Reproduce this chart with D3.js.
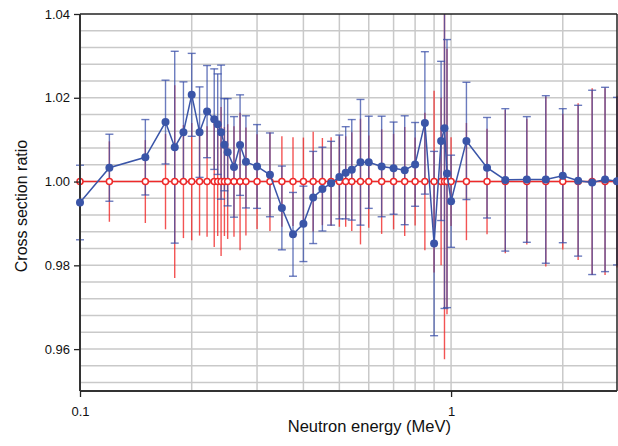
<!DOCTYPE html>
<html><head><meta charset="utf-8">
<script src="https://cdn.jsdelivr.net/npm/d3@7/dist/d3.min.js"></script>
<style>
html,body{margin:0;padding:0;background:#fff;}
svg{display:block;font-family:"Liberation Sans",Arial,Helvetica,sans-serif;}
</style></head>
<body>
<svg id="chart" width="618" height="446"></svg>
<script>
const energies = [0.1,0.12,0.15,0.17,0.18,0.19,0.20,0.21,0.22,0.23,0.235,0.24,0.245,0.25,0.26,0.27,0.28,0.30,0.325,0.35,0.375,0.40,0.425,0.45,0.475,0.50,0.52,0.54,0.57,0.60,0.65,0.70,0.75,0.80,0.85,0.90,0.94,0.96,0.975,1.0,1.1,1.25,1.4,1.6,1.8,2.0,2.2,2.4,2.6,2.8];
const measuredRatio = [0.995,1.0033,1.0058,1.0142,1.0082,1.0118,1.0207,1.0118,1.0167,1.0149,1.0137,1.0118,1.0088,1.0070,1.0035,1.0087,1.0047,1.0036,1.0016,0.9937,0.9874,0.9899,0.9962,0.9982,0.9996,1.0011,1.0021,1.0028,1.0046,1.0046,1.0036,1.0032,1.0027,1.0041,1.0140,0.9852,1.0097,1.0127,1.0019,0.9953,1.0097,1.0033,1.0004,1.0005,1.0005,1.0014,1.0002,0.9998,1.0005,1.0001];
const measuredErr = [0.0089,0.008,0.009,0.010,0.0229,0.012,0.0099,0.0108,0.011,0.012,0.012,0.016,0.011,0.0128,0.012,0.012,0.011,0.010,0.010,0.010,0.010,0.009,0.011,0.010,0.010,0.010,0.011,0.012,0.015,0.011,0.012,0.011,0.013,0.010,0.017,0.022,0.019,0.043,0.032,0.011,0.014,0.012,0.017,0.015,0.020,0.016,0.018,0.022,0.022,0.020];
const referenceRatio = energies.map(() => 1.0);
const referenceErr = [0.0107,0.0096,0.0099,0.0114,0.023,0.0135,0.014,0.0129,0.0132,0.0156,0.013,0.0178,0.013,0.0137,0.0132,0.0164,0.0129,0.0113,0.0118,0.0108,0.0106,0.0105,0.0119,0.0104,0.0106,0.0108,0.0108,0.0118,0.015,0.011,0.0125,0.0114,0.013,0.0105,0.0164,0.0217,0.020,0.0424,0.0317,0.0106,0.014,0.0126,0.0171,0.015,0.0203,0.0162,0.0187,0.0223,0.0223,0.0205];
const yTicks = [0.96,0.98,1.00,1.02,1.04];
const yTickLabels = ["0.96","0.98","1.00","1.02","1.04"];
const xTicks = [0.1,1];
const xTickLabels = ["0.1","1"];
const xGrid = [0.2,0.3,0.4,0.5,0.6,0.7,0.8,0.9,1,2];
const yGrid = [0.952,0.956,0.96,0.964,0.968,0.972,0.976,0.98,0.984,0.988,0.992,0.996,1.0,1.004,1.008,1.012,1.016,1.02,1.024,1.028,1.032,1.036];

const L=80, R=617, T=14, B=391;
const svg = d3.select("#chart");
const x = d3.scaleLog().domain([0.1,2.8]).range([L,R]);
const y = d3.scaleLinear().domain([0.95,1.04]).range([B,T]);

svg.append("defs").append("clipPath").attr("id","clip")
  .append("rect").attr("x",L-6).attr("y",T).attr("width",R-L+12).attr("height",B-T);

// grid
const grid = svg.append("g");
grid.selectAll(".hg").data(yGrid).join("line")
  .attr("x1",L).attr("x2",R).attr("y1",d=>y(d)).attr("y2",d=>y(d))
  .attr("stroke","#c9c9c9").attr("stroke-width",1.5);
grid.selectAll(".vg").data(xGrid).join("line")
  .attr("x1",d=>x(d)).attr("x2",d=>x(d)).attr("y1",T).attr("y2",B)
  .attr("stroke","#c9c9c9").attr("stroke-width",1.5);

const plot = svg.append("g").attr("clip-path","url(#clip)");
const refData = energies.map((e,i)=>({e, v:referenceRatio[i], err:referenceErr[i]}));
const measData = energies.map((e,i)=>({e, v:measuredRatio[i], err:measuredErr[i]}));

// red error bars
plot.selectAll(".rb").data(refData).join("line")
  .attr("x1",d=>x(d.e)).attr("x2",d=>x(d.e))
  .attr("y1",d=>y(d.v+d.err)).attr("y2",d=>y(d.v-d.err))
  .attr("stroke","#f02828").attr("stroke-opacity",0.8).attr("stroke-width",1.4);

// blue error bars
const bb = plot.append("g").attr("stroke","#3a4fa8").attr("stroke-opacity",0.75).attr("stroke-width",1.4);
bb.selectAll(".bv").data(measData).join("line")
  .attr("x1",d=>x(d.e)).attr("x2",d=>x(d.e))
  .attr("y1",d=>y(d.v+d.err)).attr("y2",d=>y(d.v-d.err));
bb.selectAll(".bt").data(measData).join("line")
  .attr("x1",d=>x(d.e)-4).attr("x2",d=>x(d.e)+4)
  .attr("y1",d=>y(d.v+d.err)).attr("y2",d=>y(d.v+d.err));
bb.selectAll(".bbm").data(measData).join("line")
  .attr("x1",d=>x(d.e)-4).attr("x2",d=>x(d.e)+4)
  .attr("y1",d=>y(d.v-d.err)).attr("y2",d=>y(d.v-d.err));

const marks = svg.append("g");
// red line + open circles
marks.append("path").datum(refData)
  .attr("d",d3.line().x(d=>x(d.e)).y(d=>y(d.v)))
  .attr("fill","none").attr("stroke","#ee2a2a").attr("stroke-width",1.5);
marks.selectAll(".rc").data(refData).join("circle")
  .attr("cx",d=>x(d.e)).attr("cy",d=>y(d.v)).attr("r",3)
  .attr("fill","#fff").attr("stroke","#ee2a2a").attr("stroke-width",1.5);

// frame
svg.append("line").attr("x1",L).attr("x2",R).attr("y1",T).attr("y2",T).attr("stroke","#222").attr("stroke-width",1.5);
svg.append("line").attr("x1",R).attr("x2",R).attr("y1",T).attr("y2",B).attr("stroke","#222").attr("stroke-width",1.5);

// axes
const yAxis = d3.axisLeft(y).tickValues(yTicks).tickFormat((d,i)=>yTickLabels[i]).tickSize(6).tickPadding(4);
const gy = svg.append("g").attr("transform",`translate(${L},0)`).call(yAxis);
gy.select(".domain").attr("stroke","#333").attr("stroke-width",2).attr("d",`M0,${T}V${B}`);
gy.selectAll(".tick line").attr("stroke","#222").attr("stroke-width",1.3);
gy.selectAll(".tick text").attr("font-size",13).attr("fill","#111").attr("font-family","Liberation Sans, Arial, sans-serif");

const xAxis = d3.axisBottom(x).tickValues(xTicks).tickFormat((d,i)=>xTickLabels[i]).tickSize(6).tickPadding(10);
const gx = svg.append("g").attr("transform",`translate(0,${B})`).call(xAxis);
gx.select(".domain").attr("stroke","#333").attr("stroke-width",2).attr("d",`M${L},0H${R}`);
gx.selectAll(".tick line").attr("stroke","#222").attr("stroke-width",1.3);
gx.selectAll(".tick text").attr("font-size",13).attr("fill","#111").attr("font-family","Liberation Sans, Arial, sans-serif");

// blue line + points (drawn above axes, like the reference)
const upper = svg.append("g");
upper.append("path").datum(measData)
  .attr("d",d3.line().x(d=>x(d.e)).y(d=>y(d.v)))
  .attr("fill","none").attr("stroke","#3a55a8").attr("stroke-width",1.5);
upper.selectAll(".bc").data(measData).join("circle")
  .attr("cx",d=>x(d.e)).attr("cy",d=>y(d.v)).attr("r",4)
  .attr("fill","#3a55a8");

svg.append("text").attr("x",451).attr("y",432).attr("text-anchor","end")
  .attr("font-size",16.5).attr("fill","#111").text("Neutron energy (MeV)");
svg.append("text").attr("transform","translate(27,206) rotate(-90)").attr("text-anchor","middle")
  .attr("font-size",16).attr("fill","#111").text("Cross section ratio");
</script>
</body></html>
